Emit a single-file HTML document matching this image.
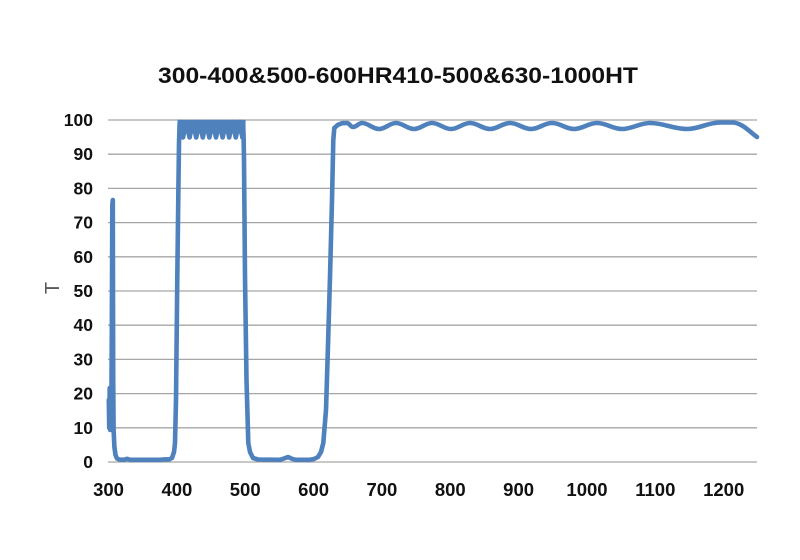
<!DOCTYPE html>
<html>
<head>
<meta charset="utf-8">
<style>
  html, body { margin: 0; padding: 0; background: #ffffff; }
  body { width: 800px; height: 560px; overflow: hidden; }
  svg { display: block; }
  text { font-family: "Liberation Sans", "DejaVu Sans", sans-serif; }
</style>
</head>
<body>
<svg width="800" height="560" viewBox="0 0 800 560" xmlns="http://www.w3.org/2000/svg">
  <rect x="0" y="0" width="800" height="560" fill="#ffffff"/>

  <!-- Title -->
  <text x="398" y="83" text-anchor="middle" font-size="22" font-weight="bold" fill="#111111" textLength="480" lengthAdjust="spacingAndGlyphs">300-400&amp;500-600HR410-500&amp;630-1000HT</text>

  <!-- Gridlines -->
  <g stroke="#a6a6a6" stroke-width="1.3">
    <line x1="108" y1="120" x2="757" y2="120"/>
    <line x1="108" y1="154.2" x2="757" y2="154.2"/>
    <line x1="108" y1="188.4" x2="757" y2="188.4"/>
    <line x1="108" y1="222.6" x2="757" y2="222.6"/>
    <line x1="108" y1="256.8" x2="757" y2="256.8"/>
    <line x1="108" y1="291" x2="757" y2="291"/>
    <line x1="108" y1="325.2" x2="757" y2="325.2"/>
    <line x1="108" y1="359.4" x2="757" y2="359.4"/>
    <line x1="108" y1="393.6" x2="757" y2="393.6"/>
    <line x1="108" y1="427.8" x2="757" y2="427.8"/>
    <line x1="108" y1="462" x2="757" y2="462"/>
  </g>

  <!-- Y tick labels -->
  <g font-size="17.5" font-weight="bold" fill="#111111" text-anchor="end">
    <text x="93" y="126">100</text>
    <text x="93" y="160.2">90</text>
    <text x="93" y="194.4">80</text>
    <text x="93" y="228.6">70</text>
    <text x="93" y="262.8">60</text>
    <text x="93" y="297">50</text>
    <text x="93" y="331.2">40</text>
    <text x="93" y="365.4">30</text>
    <text x="93" y="399.6">20</text>
    <text x="93" y="433.8">10</text>
    <text x="93" y="468">0</text>
  </g>

  <!-- X tick labels -->
  <g font-size="18.5" font-weight="bold" fill="#111111" text-anchor="middle">
    <text x="108.5" y="496">300</text>
    <text x="176.9" y="496">400</text>
    <text x="245.2" y="496">500</text>
    <text x="313.6" y="496">600</text>
    <text x="381.9" y="496">700</text>
    <text x="450.3" y="496">800</text>
    <text x="518.6" y="496">900</text>
    <text x="587" y="496">1000</text>
    <text x="655.3" y="496">1100</text>
    <text x="723.7" y="496">1200</text>
  </g>

  <!-- Y axis title -->
  <text transform="translate(59,288) rotate(-90)" text-anchor="middle" font-size="20" fill="#595959">T</text>

  <!-- dense ripple band fill -->
  <rect x="177.6" y="119.8" width="68" height="11.5" fill="#4f81bd"/>

  <!-- Series -->
  <path fill="none" stroke="#4f81bd" stroke-width="4.6" stroke-linejoin="round" stroke-linecap="round"
    d="M108.8,400 L109.2,428 L109.7,388 L110.2,430 L110.8,392 L111.3,426 L111.8,330 L112.3,205 L112.8,200 L113.2,380 L113.6,430 L114.4,447 L115.5,455 L117,458.5 L119,459.5 L124,459.8 L127,458.8 L130,459.8 L160,459.8 L166,459.3 L169,459.5 L172,458 L174,452 L175,443 L176,400 L177.3,277 L178.5,180 L179,143 L179.4,130
    L179.7,122 L183,137.5 L186.3,122 L189.6,137.5 L192.9,122 L196.2,137.5 L199.5,122 L202.8,137.5 L206.1,122 L209.4,137.5 L212.7,122 L216,137.5 L219.3,122 L222.6,137.5 L225.9,122 L229.2,137.5 L232.5,122 L235.8,137.5 L239.1,122 L242.4,137.5 L243.5,132
    L244,160 L245,277 L246.5,380 L248.3,443 L250,452 L253,458 L258,459.5 L280,459.8 L284,458.5 L288,457 L292,458.8 L296,459.8 L310,459.8 L314,459 L318,457 L321,452 L323.3,443 L326,410 L328,345 L330,277 L332,200 L333.3,140 L334.3,128
    L338,124.8 L342,123.2 L347,123
    C349.3,123 350.7,127 353,127
    C356.4,127 358.6,123 362,123
    C368.5,123 372.5,129 379,129
    C385.5,129 389.5,123 396,123
    C402.8,123 407.2,129 414,129
    C420.8,129 425.2,123 432,123
    C439.2,123 443.8,129 451,129
    C458.2,129 462.8,123 470,123
    C477.6,123 482.4,129 490,129
    C497.6,129 502.4,123 510,123
    C518,123 523,129 531,129
    C539,129 544,123 552,123
    C560.4,123 565.6,129 574,129
    C582.7,129 588.3,123 597,123
    C606.5,123 612.5,129 622,129
    C632.6,129 639.4,123 650,123
    C664,123 673,129 687,129
    C699.5,129 707.5,122.5 720,122.5
    L733,122.5
    C742,123 750,132 757,137"/>
</svg>
</body>
</html>
